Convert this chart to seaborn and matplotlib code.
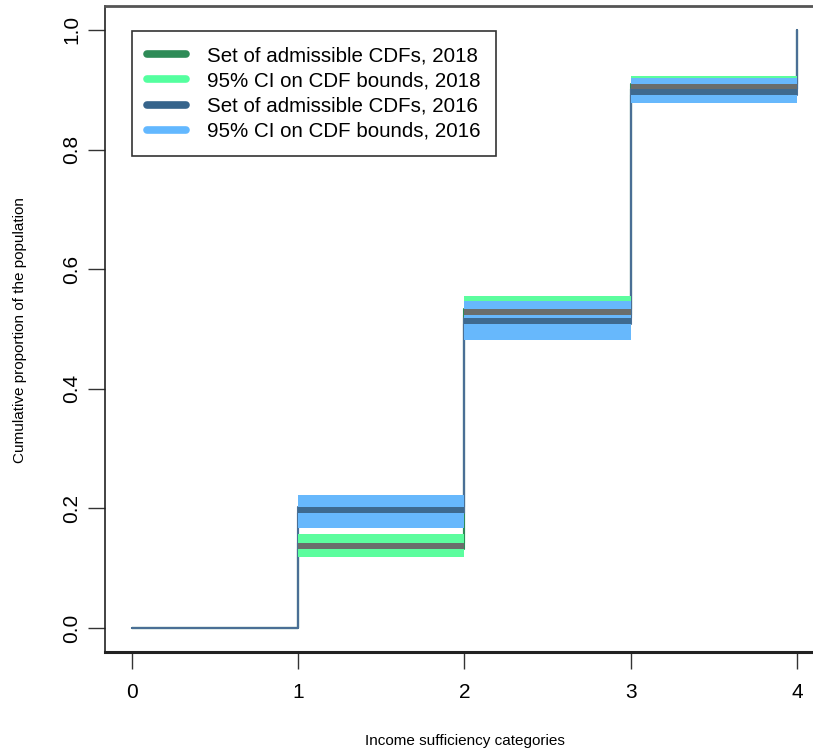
import numpy as np
import pandas as pd
import matplotlib
matplotlib.use("Agg")
import matplotlib.pyplot as plt
from matplotlib.lines import Line2D
import seaborn as sns

# ---- data ----
categories = [0, 1, 2, 3, 4]
set_lo_2018 = [0.0, 0.133, 0.523, 0.901, 1.0]
set_hi_2018 = [0.0, 0.143, 0.533, 0.909, 1.0]
ci_lo_2018 = [0.0, 0.118, 0.495, 0.885, 1.0]
ci_hi_2018 = [0.0, 0.158, 0.556, 0.923, 1.0]
set_lo_2016 = [0.0, 0.192, 0.508, 0.892, 1.0]
set_hi_2016 = [0.0, 0.202, 0.519, 0.901, 1.0]
ci_lo_2016 = [0.0, 0.168, 0.481, 0.877, 1.0]
ci_hi_2016 = [0.0, 0.222, 0.546, 0.920, 1.0]
legend_labels = ["Set of admissible CDFs, 2018", "95% CI on CDF bounds, 2018",
                 "Set of admissible CDFs, 2016", "95% CI on CDF bounds, 2016"]
x_ticks = [0, 1, 2, 3, 4]
y_ticks = [0.0, 0.2, 0.4, 0.6, 0.8, 1.0]

sns.set_style("white")
plt.rcParams['font.family'] = ['Liberation Sans', 'DejaVu Sans']
plt.rcParams['text.color'] = 'black'
plt.rcParams['xtick.color'] = 'black'
plt.rcParams['ytick.color'] = 'black'

fig = plt.figure(figsize=(8.13, 7.5), dpi=100)
ax = fig.add_axes([105/813, 1-652/750, (823.6-105)/813, (652-6)/750])

c_set18, c_ci18, c_set16, c_ci16 = "#2E8B57", "#54FF9F", "#36648B", "#63B8FF"
band_set18 = "#6a6e6c"
band_set16 = "#3e6a8f"
band_ci18 = "#5cfd9e"
band_ci16 = "#67b8fc"

def band(lo, hi, color, z):
    xs = categories[1:]
    l = lo[1:4] + [lo[3]]
    h = hi[1:4] + [hi[3]]
    ax.fill_between(xs, l, h, step="post", color=color, lw=0, zorder=z)

band(ci_lo_2018, ci_hi_2018, band_ci18, 2)
band(ci_lo_2016, ci_hi_2016, band_ci16, 3)
band(set_lo_2018, set_hi_2018, band_set18, 4)
band(set_lo_2016, set_hi_2016, band_set16, 5)

for arr, col, z in [(set_lo_2018, c_set18, 1.0), (set_hi_2018, c_set18, 1.0),
                    (set_lo_2016, "#4a6f95", 1.5), (set_hi_2016, "#4a6f95", 1.5)]:
    sns.lineplot(x=categories, y=arr, drawstyle="steps-post", color=col,
                 lw=1.5, ax=ax, zorder=z, estimator=None)

ax.set_xlim(-0.16, 4.16)
ax.set_ylim(-0.04, 1.04)
ax.set_xticks(x_ticks)
ax.set_xticklabels([str(t) for t in x_ticks], fontsize=15)
ax.set_yticks(y_ticks)
ax.set_yticklabels([f"{t:.1f}" for t in y_ticks], fontsize=15, rotation=90, va="center")
ax.tick_params(axis="both", direction="out", length=12, width=1, color="#333333",
               labelcolor="black", bottom=True, left=True)
ax.tick_params(axis="x", pad=10)
ax.tick_params(axis="y", pad=5)
for s in ax.spines.values():
    s.set_color("#222222")
    s.set_linewidth(1.2)
ax.spines["bottom"].set_linewidth(2.2)
ax.spines["top"].set_linewidth(2.0)
ax.spines["top"].set_color("#555555")

fig.text(465/813, 1-741/750, "Income sufficiency categories", fontsize=11,
         ha="center", va="center", color="black")
fig.text(20/813, 1-330/750, "Cumulative proportion of the population", fontsize=11,
         ha="center", va="center", rotation=90, color="black")

handles = [Line2D([0], [0], color=c, lw=5.5, solid_capstyle="round")
           for c in [c_set18, c_ci18, c_set16, c_ci16]]
leg = ax.legend(handles, legend_labels, loc="upper left",
                bbox_to_anchor=((132-105)/(823.6-105), (652-31)/646),
                fontsize=14.8, frameon=True, fancybox=False, edgecolor="black",
                handlelength=1.9, handletextpad=1.0, labelspacing=0.3,
                borderpad=0.75, borderaxespad=0, labelcolor="black")
leg.get_frame().set_linewidth(1.2)

fig.savefig("out.png", dpi=100)
